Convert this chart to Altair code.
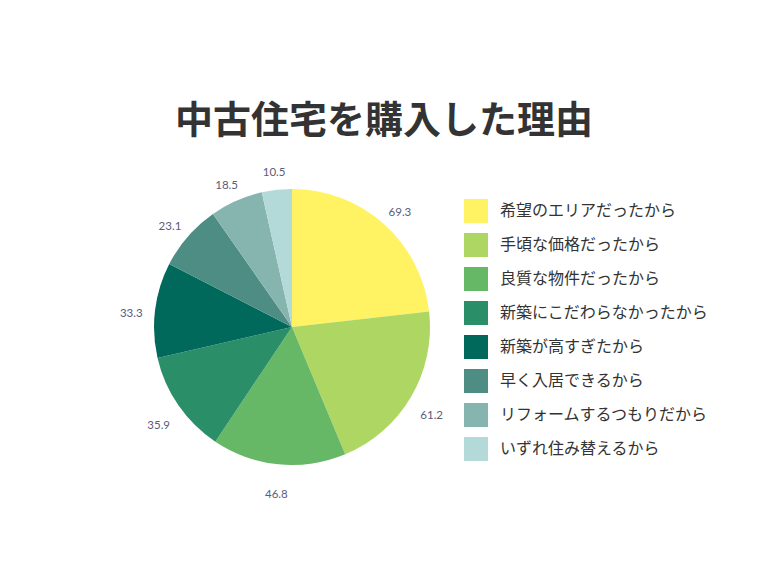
import altair as alt
import pandas as pd

categories = ["希望のエリアだったから", "手頃な価格だったから", "良質な物件だったから",
              "新築にこだわらなかったから", "新築が高すぎたから", "早く入居できるから",
              "リフォームするつもりだから", "いずれ住み替えるから"]
values = [69.3, 61.2, 46.8, 35.9, 33.3, 23.1, 18.5, 10.5]
colors = ["#FFF263", "#ADD762", "#66B766", "#2A8F68", "#00695C", "#4E8D84", "#85B5AE", "#B3D9D8"]

df = pd.DataFrame({"reason": categories, "value": values, "idx": list(range(len(values)))})

base = alt.Chart(df).encode(
    theta=alt.Theta("value:Q", stack=True),
    order=alt.Order("idx:Q", sort="ascending"),
)

pie = base.mark_arc(outerRadius=138, stroke=None).encode(
    x=alt.value(284), y=alt.value(179),
    color=alt.Color("reason:N",
                    scale=alt.Scale(domain=categories, range=colors),
                    legend=alt.Legend(title=None, orient="none", legendX=456, legendY=51,
                                      symbolType="square", symbolSize=576,
                                      symbolStrokeWidth=0, symbolOpacity=1,
                                      labelFontSize=16, labelColor="#333333",
                                      labelFont="Noto Sans CJK JP", labelOffset=12,
                                      rowPadding=10, padding=0, labelLimit=400)),
)

labels = base.mark_text(radius=162, dy=7, fontSize=11.5, color="#5B5B7B", font="Lato").encode(
    x=alt.value(284), y=alt.value(179),
    text=alt.Text("value:Q", format=".1f"),
)

chart = alt.layer(pie, labels).properties(
    width=752, height=420,
    padding={"top": 140, "left": 0, "right": 0, "bottom": 0},
    autosize=alt.AutoSizeParams(type="none"),
    title=alt.TitleParams("中古住宅を購入した理由", fontSize=38, font="Noto Sans CJK JP",
                          fontWeight="bold", color="#333333", anchor="middle", offset=7),
).configure_view(stroke=None)

chart.save("out.html", embed_options={"renderer": "svg", "actions": False})
